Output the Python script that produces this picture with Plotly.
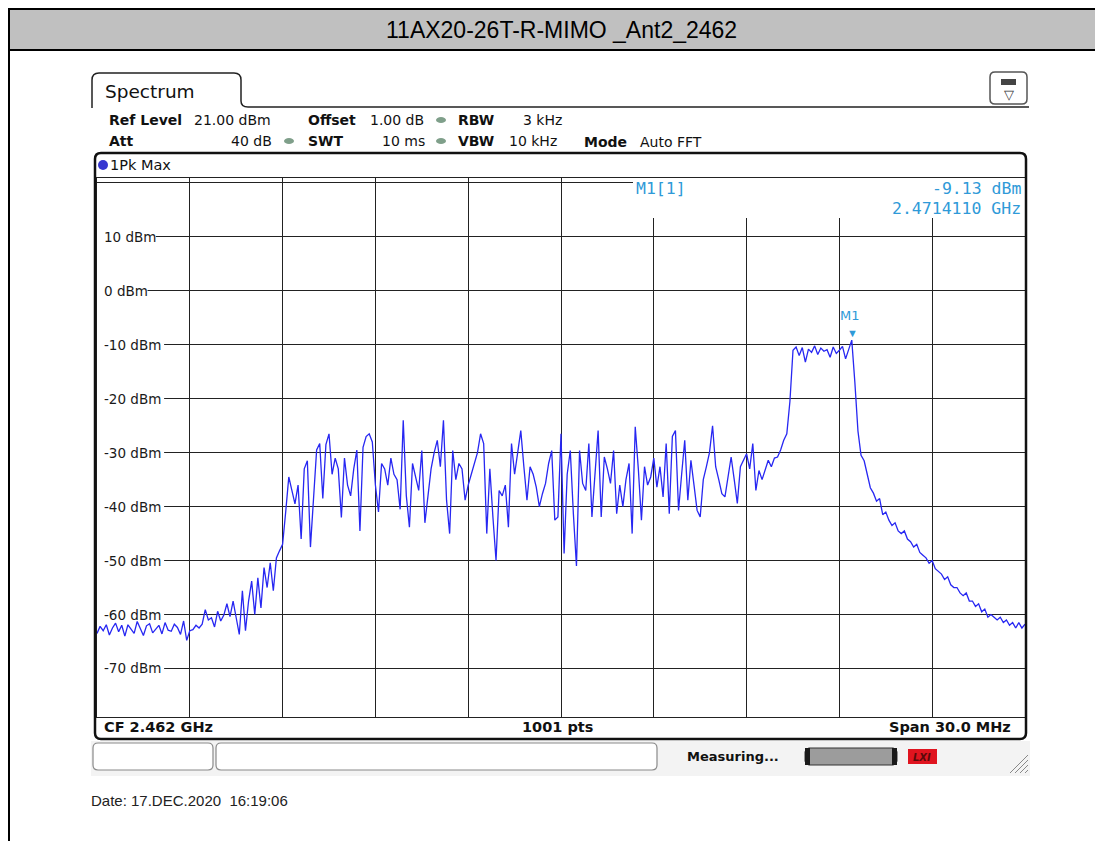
import numpy as np
import plotly.graph_objects as go

W, H = 1103, 841
OFF = 8  # the page body margin pushes the figure 8 px right and down

# sweep settings
center_ghz = 2.462
span_ghz = 0.030
ref_level = 21.0
bottom_level = -79.0

grid_levels = [20, 10, 0, -10, -20, -30, -40, -50, -60, -70]
level_labels = ["10 dBm", "0 dBm", "-10 dBm", "-20 dBm", "-30 dBm",
                "-40 dBm", "-50 dBm", "-60 dBm", "-70 dBm"]
label_levels = [10, 0, -10, -20, -30, -40, -50, -60, -70]

marker_freq_ghz = 2.4714110
marker_level = -9.13

# trace levels (dBm), 0.1 MHz apart
floor_left = [
    -63.5, -62.2, -63.0, -61.9, -63.8, -62.5, -61.6, -63.2, -62.0, -64.0,
    -61.9, -62.8, -63.5, -61.3, -62.6, -63.9, -62.1, -61.7, -63.4, -62.7,
    -62.0, -63.6, -61.5, -62.9, -63.1, -61.8, -62.4, -63.7, -61.2, -64.8,
]
rise_left = [
    -63.0, -62.8, -62.0, -62.5, -61.8, -59.1, -61.0, -60.6, -62.3, -59.4,
    -61.2, -60.1, -58.0, -60.4, -57.5, -60.6, -63.7, -55.6, -63.0, -57.5,
    -53.8, -60.0, -53.2, -58.8, -51.3, -55.0, -50.4, -55.6, -49.5, -48.2,
    -47.0,
]
inband_noise = [
    -41.0, -34.5, -37.0, -39.5, -36.0, -46.0, -33.0, -31.5, -47.5, -38.0,
    -29.5, -28.3, -38.5, -28.5, -26.5, -34.0, -31.0, -33.0, -42.0, -31.0,
    -36.0, -38.0, -33.0, -29.5, -44.5, -29.0, -27.0, -26.5, -28.0, -36.0,
    -41.0, -32.0, -33.0, -36.0, -31.0, -34.0, -35.0, -40.5, -24.0, -38.0,
    -43.8, -32.0, -34.5, -37.0, -29.6, -43.0, -38.0, -33.0, -30.0, -27.7,
    -32.6, -24.0, -38.8, -45.0, -29.6, -35.0, -32.0, -33.0, -38.8, -36.0,
    -34.0, -32.0, -30.0, -26.5, -28.3, -45.0, -33.0, -42.0, -50.0, -37.0,
    -38.0, -36.0, -43.8, -28.3, -34.0, -30.0, -25.9, -32.6, -38.8, -32.6,
    -34.0, -36.4, -40.0, -37.6, -35.7, -32.0, -29.6, -42.5, -41.9, -26.5,
    -48.7, -34.0, -29.6, -41.3, -51.0, -29.6, -35.7, -37.0, -28.3, -41.9,
    -33.0, -25.9, -41.9, -30.8, -33.0, -35.7, -29.6, -41.3, -36.0, -40.0,
    -35.0, -32.0, -45.0, -25.2, -33.0, -42.5, -32.6, -36.0, -34.5, -31.0,
    -36.4, -32.6, -38.2, -28.3, -41.3, -27.0, -25.9, -40.7, -34.0, -27.7,
    -38.8, -31.4, -36.0, -40.7, -41.9, -35.0, -32.6, -30.0, -25.0, -32.6,
    -35.0, -37.6, -38.2, -34.0, -30.8, -35.0, -39.4, -32.6, -31.4, -30.2,
    -33.0, -28.3, -37.0, -33.3, -35.0, -33.0, -31.4, -32.6, -31.0, -30.8,
    -29.5, -27.7, -26.5, -20.5,
]
channel_top = [
    -11.0, -10.4, -12.0, -10.5, -13.2, -10.8, -11.4, -10.2, -11.8, -10.6,
    -11.2, -10.9, -12.3, -10.4, -11.6, -11.0, -10.3, -12.6, -10.7, -9.13,
]
skirt_right = [
    -17.0, -26.0, -30.5, -31.5, -34.0, -36.5, -37.5, -39.0, -38.5, -41.5,
    -41.0, -42.5, -43.5, -43.0, -44.5, -45.0, -44.5, -46.0, -46.5, -47.5,
    -47.0, -48.5, -49.0, -49.5, -50.5, -50.0, -51.5, -52.0, -52.5, -53.5,
    -53.0, -54.5, -55.0, -55.0, -56.0, -56.5, -56.0, -57.5, -57.5, -58.5,
    -58.0, -59.5, -59.0, -60.5, -60.0, -60.5, -61.0, -60.5, -61.5, -61.0,
    -62.0, -61.5, -62.5, -61.5, -62.5, -61.8,
]

levels = floor_left + rise_left + inband_noise + channel_top + skirt_right
f_start = center_ghz - span_ghz / 2
f_stop = center_ghz + span_ghz / 2
freqs = np.linspace(f_start, f_stop, len(levels))

FW, FH = W - OFF, H - OFF

# pixel helpers for the screen furniture (reference pixel -> paper)
X0, X1 = 97, 1025
def px(x):
    return (x - OFF) / FW
def py(y):
    return 1 - (y - OFF) / FH
def fx(p):
    return f_start + (p - X0) / (X1 - X0) * span_ghz

fig = go.Figure()
fig.add_trace(go.Scatter(x=freqs, y=levels, mode="lines",
                         line=dict(color="#2727f2", width=1.3),
                         hoverinfo="skip", showlegend=False))

ann = []
def text(x, y, s, size=14, bold=False, anchor="left", color="#111111",
         family="DejaVu Sans"):
    ann.append(dict(x=px(x), y=py(y), xref="paper", yref="paper",
                    text=f"<b>{s}</b>" if bold else s, showarrow=False,
                    xanchor=anchor, yanchor="middle",
                    font=dict(size=size, color=color, family=family)))

shapes = []
def rounded(x0, y0, x1, y1, r):
    # rounded rectangle path in pixel space
    return (f"M {px(x0+r)},{py(y0)} L {px(x1-r)},{py(y0)} Q {px(x1)},{py(y0)} {px(x1)},{py(y0+r)} "
            f"L {px(x1)},{py(y1-r)} Q {px(x1)},{py(y1)} {px(x1-r)},{py(y1)} "
            f"L {px(x0+r)},{py(y1)} Q {px(x0)},{py(y1)} {px(x0)},{py(y1-r)} "
            f"L {px(x0)},{py(y0+r)} Q {px(x0)},{py(y0)} {px(x0+r)},{py(y0)} Z")

# page header band and border
shapes.append(dict(type="rect", xref="paper", yref="paper", x0=px(9), x1=1.02,
                   y0=py(50), y1=py(9), fillcolor="#c0c0c0",
                   line=dict(color="black", width=2), layer="below"))
shapes.append(dict(type="line", xref="paper", yref="paper", x0=px(9), x1=px(9),
                   y0=py(9), y1=-0.01, line=dict(color="black", width=2)))

# Spectrum tab
tab = (f"M {px(92)},{py(108)} L {px(92)},{py(80)} Q {px(92)},{py(73)} {px(99)},{py(73)} "
       f"L {px(234)},{py(73)} Q {px(241)},{py(73)} {px(241)},{py(80)} "
       f"L {px(241)},{py(101)} Q {px(241)},{py(107)} {px(248)},{py(107)} L {px(1029)},{py(107)}")
shapes.append(dict(type="path", xref="paper", yref="paper", path=tab,
                   line=dict(color="#222222", width=1.5)))
# icon top right
shapes.append(dict(type="path", xref="paper", yref="paper", path=rounded(990, 72, 1027, 104, 5),
                   line=dict(color="#555555", width=1.5), fillcolor="white"))
shapes.append(dict(type="rect", xref="paper", yref="paper", x0=px(1001), x1=px(1016),
                   y0=py(85), y1=py(79), fillcolor="#444444", line=dict(width=0)))

# diagram frame
shapes.append(dict(type="path", xref="paper", yref="paper", path=rounded(95, 153, 1026, 739, 6),
                   line=dict(color="#111111", width=2.5)))

# white patches behind y labels and marker readout (above grid, below trace)
for lab, lev in zip(level_labels, label_levels):
    end = 103 + 8.3 * len(lab) + 3
    shapes.append(dict(type="rect", xref="x", yref="y", x0=f_start, x1=fx(end),
                       y0=lev - 1.4, y1=lev + 1.4, fillcolor="white",
                       line=dict(width=0), layer="between"))
shapes.append(dict(type="rect", xref="x", yref="y", x0=fx(633), x1=f_stop,
                   y0=13.5, y1=ref_level, fillcolor="white",
                   line=dict(width=0), layer="between"))

# status strip under the diagram
shapes.append(dict(type="rect", xref="paper", yref="paper", x0=px(91), x1=px(1030),
                   y0=py(776), y1=py(741), fillcolor="#f3f3f3", line=dict(width=0),
                   layer="below"))
shapes.append(dict(type="path", xref="paper", yref="paper", path=rounded(93, 743, 213, 770, 5),
                   line=dict(color="#8a8a8a", width=1.2), fillcolor="white"))
shapes.append(dict(type="path", xref="paper", yref="paper", path=rounded(216, 743, 657, 770, 5),
                   line=dict(color="#8a8a8a", width=1.2), fillcolor="white"))
shapes.append(dict(type="path", xref="paper", yref="paper", path=rounded(805, 748, 897, 765, 4),
                   fillcolor="#9c9c9c", line=dict(color="#333333", width=1)))
shapes.append(dict(type="rect", xref="paper", yref="paper", x0=px(805), x1=px(810),
                   y0=py(765), y1=py(748), fillcolor="#1a1a1a", line=dict(width=0)))
shapes.append(dict(type="rect", xref="paper", yref="paper", x0=px(892), x1=px(897),
                   y0=py(765), y1=py(748), fillcolor="#1a1a1a", line=dict(width=0)))
shapes.append(dict(type="rect", xref="paper", yref="paper", x0=px(908), x1=px(937),
                   y0=py(764), y1=py(749), fillcolor="#e0141f", line=dict(width=0)))
for k in range(4):
    shapes.append(dict(type="line", xref="paper", yref="paper",
                       x0=px(1010 + 5 * k), y0=py(773), x1=px(1028), y1=py(755 + 5 * k),
                       line=dict(color="#888888", width=1)))

# header texts
text(561, 30, "11AX20-26T-R-MIMO _Ant2_2462", size=23, family="Liberation Sans",
     color="#000000", anchor="center")
text(103, 91, "Spectrum", size=18.5)
text(107, 120, "Ref Level", bold=True)
text(192, 120, "21.00 dBm")
text(306, 120, "Offset", bold=True)
text(368, 120, "1.00 dB")
text(456, 120, "RBW", bold=True)
text(521, 120, "3 kHz")
text(107, 141, "Att", bold=True)
text(274, 141, "40 dB", anchor="right")
text(306, 141, "SWT", bold=True)
text(427, 141, "10 ms", anchor="right")
text(456, 141, "VBW", bold=True)
text(507, 141, "10 kHz")
text(582, 142, "Mode", bold=True)
text(638, 142, "Auto FFT")
for xd, yd in [(289, 141), (441, 120), (441, 141)]:
    shapes.append(dict(type="circle", xref="paper", yref="paper", x0=px(xd - 5), x1=px(xd + 5),
                       y0=py(yd + 3), y1=py(yd - 3), fillcolor="#7f9f8a", line=dict(width=0)))
shapes.append(dict(type="circle", xref="paper", yref="paper", x0=px(98), x1=px(108),
                   y0=py(170), y1=py(160), fillcolor="#3636d0", line=dict(width=0)))
text(108, 165, "1Pk Max", size=14.5)
text(1009, 95, "▽", size=13, anchor="center", color="#333333")

# marker readout
mk = "#2f9ad8"
text(634, 189, "M1[1]", size=16.5, family="DejaVu Sans Mono", color=mk)
text(1023, 189, "-9.13 dBm", size=16.5, family="DejaVu Sans Mono", color=mk, anchor="right")
text(1023, 209, "2.4714110 GHz", size=16.5, family="DejaVu Sans Mono", color=mk, anchor="right")
ann.append(dict(x=marker_freq_ghz, y=marker_level, xref="x", yref="y", text="▼",
                showarrow=False, yanchor="bottom", yshift=-2,
                font=dict(size=11, color=mk)))
ann.append(dict(x=marker_freq_ghz, y=marker_level, xref="x", yref="y", text="M1",
                showarrow=False, yanchor="bottom", yshift=15, xshift=-2,
                font=dict(size=13, color=mk, family="DejaVu Sans")))

# level labels inside the grid
for lab, lev in zip(level_labels, label_levels):
    ann.append(dict(x=px(102), y=lev, xref="paper", yref="y", text=lab, showarrow=False,
                    xanchor="left", yanchor="middle",
                    font=dict(size=13.5, color="#1a1a1a", family="DejaVu Sans")))

# bottom row
text(102, 727, "CF 2.462 GHz", bold=True, size=14.5)
text(557, 727, "1001 pts", bold=True, size=14.5, anchor="center")
text(1013, 727, "Span 30.0 MHz", bold=True, size=14.5, anchor="right")
text(685, 756, "Measuring...", bold=True, size=13)
text(922, 757, "<i>LXI</i>", bold=True, size=10, anchor="center", color="#5a0a0a")
text(89, 800, "Date: 17.DEC.2020  16:19:06", size=15, family="Liberation Sans", color="#222222")

grid_x = [round(f_start + 0.003 * k, 4) for k in range(1, 10)]

fig.update_layout(
    width=FW, height=FH, autosize=False,
    margin=dict(l=0, r=0, t=0, b=0),
    paper_bgcolor="white", plot_bgcolor="white",
    shapes=shapes, annotations=ann,
    xaxis=dict(domain=[px(X0), px(X1)], range=[f_start, f_stop],
               tickvals=grid_x, showticklabels=False, ticks="",
               showgrid=True, gridcolor="#222222", gridwidth=1.4,
               zeroline=False, showline=True, linecolor="#222222",
               linewidth=1.3, mirror=True, fixedrange=True),
    yaxis=dict(domain=[py(717), py(177.6)], range=[bottom_level, ref_level],
               tickvals=grid_levels, showticklabels=False, ticks="",
               showgrid=True, gridcolor="#222222", gridwidth=1.4,
               zeroline=False, showline=True, linecolor="#222222",
               linewidth=1.3, mirror=True, fixedrange=True),
)

fig.write_html("out.html")
